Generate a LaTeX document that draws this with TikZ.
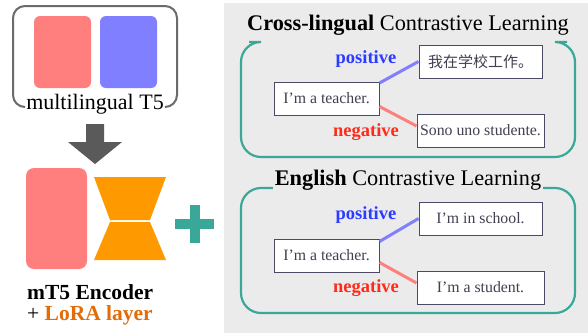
\documentclass[tikz,border=0pt]{standalone}
\usepackage{fontspec}
\setmainfont{Liberation Serif}
\newfontfamily\cjkfont{Noto Sans CJK SC}
\definecolor{bgray}{HTML}{EBEBEB}
\definecolor{salmon}{HTML}{FF7F7F}
\definecolor{lblue}{HTML}{7F7FFF}
\definecolor{orng}{HTML}{FF9900}
\definecolor{loraor}{HTML}{E36C09}
\definecolor{teal}{HTML}{3AA898}
\definecolor{boxline}{HTML}{4A4A66}
\definecolor{txtgray}{HTML}{404050}
\definecolor{darkarrow}{HTML}{5A5A5A}
\definecolor{posblue}{HTML}{2B3BFF}
\definecolor{negred}{HTML}{FF2A1A}
\tikzset{
  sent/.style={draw=boxline, line width=1pt, fill=white, text=txtgray, font=\fontsize{15.8}{18}\selectfont, inner sep=0pt, minimum height=33pt},
  poslab/.style={text=posblue, font=\bfseries\fontsize{18.5}{20}\selectfont, inner sep=0pt},
  neglab/.style={text=negred, font=\bfseries\fontsize{18.5}{20}\selectfont, inner sep=0pt},
  posline/.style={lblue, line width=3pt},
  negline/.style={salmon, line width=3pt},
  groupbox/.style={teal, line width=2.2pt, rounded corners=20pt},
  titletext/.style={font=\fontsize{22.3}{24}\selectfont, inner sep=2pt}
}
\begin{document}
\begin{tikzpicture}[x=1pt,y=-1pt]
\useasboundingbox (0,0) rectangle (588,333);
\fill[white] (0,0) rectangle (588,333);
\fill[bgray] (224,3) rectangle (588,333);

% ---------- left: multilingual T5
\draw[darkarrow!90, line width=2pt, rounded corners=12pt] (25,107) -- (13,107) -- (13,6) -- (177,6) -- (177,107) -- (165,107);
\fill[salmon, rounded corners=6pt] (34,16) rectangle (91,88);
\fill[lblue, rounded corners=6pt] (100,16) rectangle (157,88);
\node[font=\fontsize{22}{24}\selectfont, inner sep=0pt] (mt5) at (95,104) {multilingual T5};

\fill[darkarrow] (86,124) -- (104,124) -- (104,142) -- (122,142) -- (95,164) -- (68,142) -- (86,142) -- cycle;

\fill[salmon, rounded corners=8pt] (26,168) rectangle (87,269);
\fill[orng] (94,177) -- (166,177) -- (150,220) -- (110,220) -- cycle;
\fill[orng] (110,222) -- (150,222) -- (166,260) -- (94,260) -- cycle;

\fill[teal] (175,219) rectangle (214,228.5);
\fill[teal] (190,205) rectangle (199.5,243);

\node[font=\bfseries\fontsize{21.5}{24}\selectfont, inner sep=0pt, anchor=west] (enc) at (27,292) {mT5 Encoder};
\node[font=\fontsize{21.5}{24}\selectfont, inner sep=0pt, anchor=west] (lora) at (27,315) {+ \textcolor{loraor}{\bfseries LoRA layer}};

% ---------- right top: cross-lingual
\draw[groupbox] (249,42) -- (241,42) -- (241,157) -- (575,157) -- (575,42) -- (567,42);
\node[titletext] (t1) at (408,25) {\textbf{Cross-lingual} Contrastive Learning};

\node[sent, minimum width=105pt] (a1) at (326.5,98.5) {I’m a teacher.};
\node[sent, minimum width=123pt] (p1) at (480.5,61.5) {\cjkfont\fontsize{15}{17}\selectfont 我在学校工作。};
\node[sent, minimum width=127pt] (n1) at (480.5,130.5) {Sono uno studente.};
\node[poslab] (pl1) at (366,59) {positive};
\node[neglab] (nl1) at (366,132) {negative};
\draw[posline] ([yshift=-1.5pt]a1.north east) -- (p1.west);
\draw[negline] ([yshift=9pt]a1.south east) -- ([yshift=4.5pt]n1.west);

% ---------- right bottom: English
\draw[groupbox] (241,188) rectangle (575,313);
\node[titletext, fill=bgray, inner ysep=0pt] (t2) at (408,180) {\textbf{English} Contrastive Learning};

\node[sent, minimum width=105pt] (a2) at (326.5,255.5) {I’m a teacher.};
\node[sent, minimum width=123pt] (p2) at (480.5,218.5) {I'm in school.};
\node[sent, minimum width=127pt] (n2) at (480.5,287.5) {I'm a student.};
\node[poslab] (pl2) at (366,215) {positive};
\node[neglab] (nl2) at (366,288) {negative};
\draw[posline] ([yshift=-3pt]a2.north east) -- (p2.west);
\draw[negline] ([yshift=10pt]a2.south east) -- ([yshift=4.5pt]n2.west);
\end{tikzpicture}
\end{document}
